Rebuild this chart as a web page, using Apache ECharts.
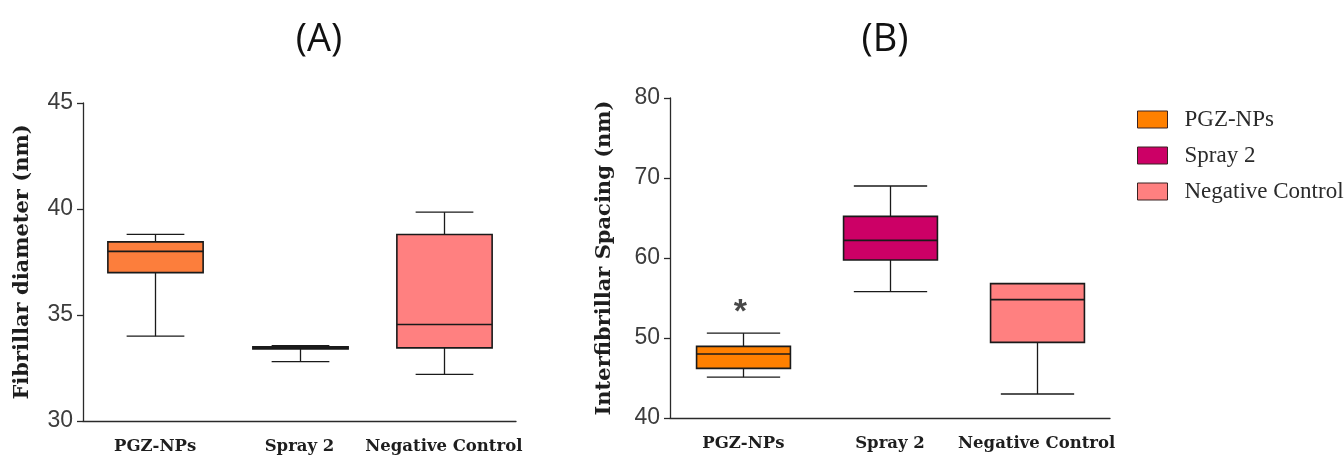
<!DOCTYPE html>
<html>
<head>
<meta charset="utf-8">
<script src="https://cdn.jsdelivr.net/npm/echarts@6/dist/echarts.min.js"></script>
<style>
  html, body { margin: 0; padding: 0; background: #ffffff; }
  #chart { width: 1344px; height: 459px; }
</style>
</head>
<body>
<div id="chart"></div>
<script>
// Groups shown on both panels
const categories = ['PGZ-NPs', 'Spray 2', 'Negative Control'];

// Box statistics per group: [min, Q1, median, Q3, max]
const diameterStats = [
  [34.0, 37.0, 38.0, 38.45, 38.8],
  [32.8, 33.4, 33.45, 33.5, 33.55],
  [32.2, 33.45, 34.55, 38.8, 39.85]
];
const spacingStats = [
  [45.1, 46.2, 48.0, 48.95, 50.6],
  [55.8, 59.75, 62.2, 65.2, 69.0],
  [43.0, 49.45, 54.8, 56.8, 56.8]
];

// Value-axis ranges: [min, max, step]
const diameterAxis = [30, 45, 5];
const spacingAxis = [40, 80, 10];

// Significance marker on panel B: [group index, value, text]
const significance = [[0, 54.2, '*']];

const colorsA = ['#FC7E3C', '#CC0066', '#FF8080'];
const colorsB = ['#FF8000', '#CC0066', '#FF8080'];

const serifBold = '"DejaVu Serif", "Liberation Serif", serif';
const tickFont = '"Liberation Sans Narrow", "Arial Narrow", "Liberation Sans", sans-serif';

function boxRenderer(boxRatio, capRatio) {
  return function (params, api) {
    const x = api.value(0);
    const pMin = api.coord([x, api.value(1)]);
    const pQ1 = api.coord([x, api.value(2)]);
    const pMed = api.coord([x, api.value(3)]);
    const pQ3 = api.coord([x, api.value(4)]);
    const pMax = api.coord([x, api.value(5)]);
    const band = api.size([1, 0])[0];
    const half = band * boxRatio / 2;
    const capHalf = band * capRatio / 2;
    const cx = Math.round(pMed[0]) + 0.5;
    const stroke = '#1a1a1a';
    const lineStyle = { stroke: stroke, lineWidth: 1.3 };
    return {
      type: 'group',
      children: [
        { type: 'line', shape: { x1: cx, y1: pMax[1], x2: cx, y2: pQ3[1] }, style: lineStyle },
        { type: 'line', shape: { x1: cx, y1: pQ1[1], x2: cx, y2: pMin[1] }, style: lineStyle },
        { type: 'line', shape: { x1: cx - capHalf, y1: pMax[1], x2: cx + capHalf, y2: pMax[1] }, style: lineStyle },
        { type: 'line', shape: { x1: cx - capHalf, y1: pMin[1], x2: cx + capHalf, y2: pMin[1] }, style: lineStyle },
        {
          type: 'rect',
          shape: { x: cx - half, y: pQ3[1], width: half * 2, height: pQ1[1] - pQ3[1] },
          style: { fill: api.visual('color'), stroke: stroke, lineWidth: 1.6 }
        },
        { type: 'line', shape: { x1: cx - half, y1: pMed[1], x2: cx + half, y2: pMed[1] }, style: { stroke: stroke, lineWidth: 1.6 } }
      ]
    };
  };
}

function boxSeries(stats, colors, axisIndex, boxRatio, capRatio) {
  return stats.map(function (s, i) {
    return {
      type: 'custom',
      name: categories[i],
      xAxisIndex: axisIndex,
      yAxisIndex: axisIndex,
      itemStyle: { color: colors[i] },
      renderItem: boxRenderer(boxRatio, capRatio),
      encode: { x: 0, y: [1, 2, 3, 4, 5] },
      data: [[i].concat(s)],
      silent: true
    };
  });
}

function valueAxis(range, gridIndex, title, gap) {
  return {
    type: 'value',
    gridIndex: gridIndex,
    min: range[0],
    max: range[1],
    interval: range[2],
    splitLine: { show: false },
    axisLine: { show: true, lineStyle: { color: '#2a2a2a', width: 1.3 } },
    axisTick: { show: true, length: 6, lineStyle: { color: '#2a2a2a', width: 1.3 } },
    axisLabel: { fontFamily: tickFont, fontSize: 23, color: '#3c3c3c', margin: 10 },
    name: title,
    nameLocation: 'middle',
    nameGap: gap,
    nameTextStyle: { fontFamily: serifBold, fontWeight: 'bold', fontSize: 21, color: '#1e1e1e' }
  };
}

function categoryAxis(gridIndex) {
  return {
    type: 'category',
    gridIndex: gridIndex,
    data: categories,
    boundaryGap: true,
    axisLine: { show: true, lineStyle: { color: '#2a2a2a', width: 1.3 } },
    axisTick: { show: false },
    axisLabel: { fontFamily: serifBold, fontWeight: 'bold', fontSize: 16.5, color: '#1e1e1e', margin: 17, interval: 0 }
  };
}

const chart = echarts.init(document.getElementById('chart'), null, { renderer: 'canvas' });

const option = {
  animation: false,
  backgroundColor: '#ffffff',
  grid: [
    { left: 83, top: 103, width: 433, height: 318 },
    { left: 670, top: 98, width: 440, height: 320 }
  ],
  xAxis: [categoryAxis(0), categoryAxis(1)],
  yAxis: [
    valueAxis(diameterAxis, 0, 'Fibrillar diameter (nm)', 50),
    valueAxis(spacingAxis, 1, 'Interfibrillar Spacing (nm)', 55)
  ],
  legend: {
    data: categories,
    orient: 'vertical',
    left: 1137,
    top: 108,
    padding: 0,
    icon: 'rect',
    itemWidth: 30,
    itemHeight: 17,
    itemGap: 13,
    selectedMode: false,
    itemStyle: { borderColor: '#3a2222', borderWidth: 1 },
    textStyle: { fontFamily: '"Liberation Serif", serif', fontSize: 23, color: '#2a2a2a', padding: [0, 0, 0, 12] }
  },
  graphic: [
    { type: 'text', x: 319, y: 40, style: { text: '(A)', align: 'center', verticalAlign: 'middle', font: '38px "Open Sans", "Liberation Sans", sans-serif', fill: '#111111' } },
    { type: 'text', x: 885, y: 40, style: { text: '(B)', align: 'center', verticalAlign: 'middle', font: '38px "Open Sans", "Liberation Sans", sans-serif', fill: '#111111' } }
  ],
  series: boxSeries(spacingStats, colorsB, 1, 0.64, 0.5)
    .concat(boxSeries(diameterStats, colorsA, 0, 0.66, 0.4))
    .concat([{
      type: 'scatter',
      xAxisIndex: 1,
      yAxisIndex: 1,
      symbolSize: 0,
      silent: true,
      data: significance.map(function (d) { return [d[0], d[1], d[2]]; }),
      label: {
        show: true,
        position: 'inside',
        offset: [-3, 8],
        formatter: function (p) { return p.data[2]; },
        fontFamily: '"Liberation Sans", sans-serif',
        fontWeight: 'bold',
        fontSize: 34,
        color: '#1a1a1a'
      }
    }])
};

chart.setOption(option);
</script>
</body>
</html>
